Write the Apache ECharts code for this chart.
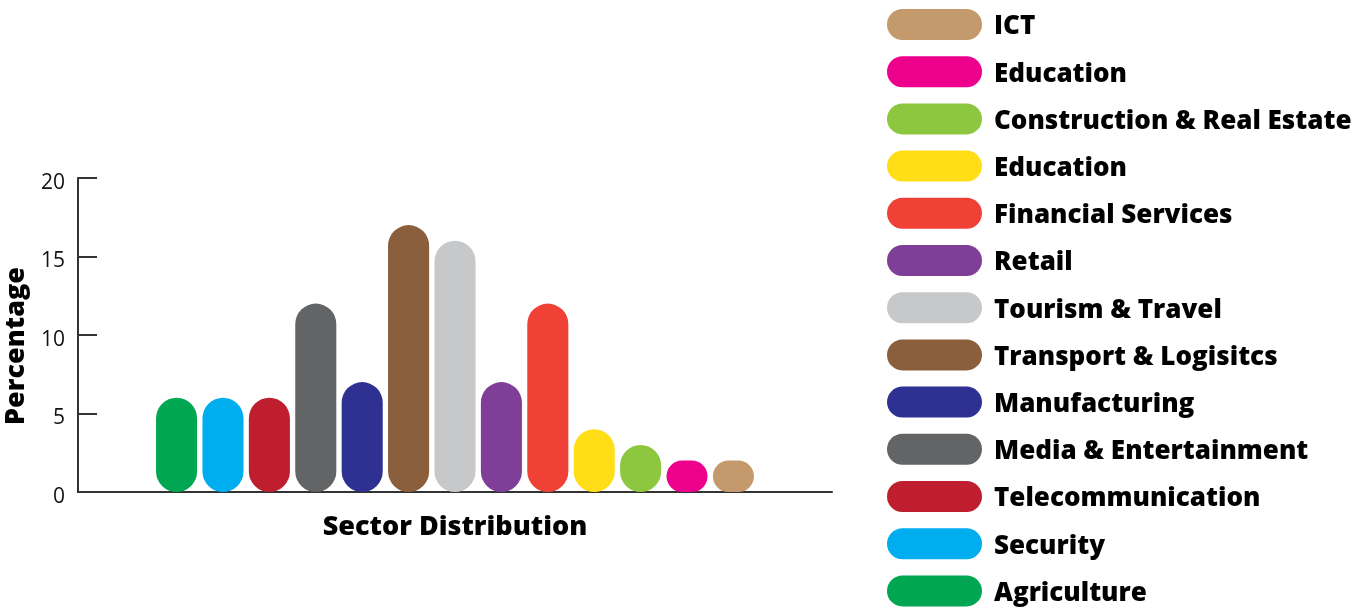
<!DOCTYPE html>
<html>
<head>
<meta charset="utf-8">
<script src="https://cdn.jsdelivr.net/npm/echarts@6/dist/echarts.min.js"></script>
<style>
html,body{margin:0;padding:0;background:#fff;}
#chart{width:1371px;height:611px;}
</style>
</head>
<body>
<div id="chart"></div>
<script>
const categories = ['Sector Distribution'];
const seriesNames = ['Agriculture','Security','Telecommunication','Media & Entertainment','Manufacturing','Transport & Logisitcs','Tourism & Travel','Retail','Financial Services','Education','Construction & Real Estate','Education ','ICT'];
const seriesValues = [6, 6, 6, 12, 7, 17, 16, 7, 12, 4, 3, 2, 2];
const seriesColors = ['#00A651','#00AEEF','#BE1E2D','#636466','#2E3192','#8B5E3C','#C7C8CA','#7F3F98','#EF4136','#FFDE17','#8DC63F','#EC008C','#C49A6C'];
const yTicks = {min: 0, max: 20, interval: 5};

const pill = 'path://M15.5,0 L79.5,0 A15.5,15.5 0 0 1 79.5,31 L15.5,31 A15.5,15.5 0 0 1 15.5,0 Z';

const chart = echarts.init(document.getElementById('chart'));
const series = seriesNames.map((n, i) => ({
  name: n,
  type: 'bar',
  data: [seriesValues[i]],
  barGap: '13%',
  barCategoryGap: '20.7%',
  itemStyle: {color: seriesColors[i], borderRadius: 21},
  emphasis: {disabled: true}
}));

chart.setOption({
  animation: false,
  grid: {left: 78, right: 539, top: 178, bottom: 119, containLabel: false, outerBoundsMode: 'none'},
  legend: {
    orient: 'vertical',
    left: 887,
    top: 9,
    height: 602,
    padding: 0,
    itemWidth: 95,
    itemHeight: 31,
    itemGap: 16.2,
    icon: pill,
    data: seriesNames.slice().reverse(),
    formatter: n => '{a|' + n.trim() + '}',
    textStyle: {
      fontFamily: 'Open Sans', fontWeight: 800, fontSize: 26, color: '#000',
      rich: {a: {fontFamily: 'Open Sans', fontWeight: 800, fontSize: 26, color: '#000', lineHeight: 26, padding: [5, 0, 0, 7]}}
    },
    selectedMode: false
  },
  xAxis: {
    type: 'category',
    data: categories,
    axisLine: {lineStyle: {color: '#333', width: 2}},
    axisTick: {inside: true, length: 7, lineStyle: {color: '#333', width: 2}},
    axisLabel: {margin: 22, fontFamily: 'Open Sans', fontWeight: 800, fontSize: 27, color: '#000'}
  },
  yAxis: {
    type: 'value',
    min: yTicks.min, max: yTicks.max, interval: yTicks.interval,
    name: 'Percentage',
    nameLocation: 'middle',
    nameGap: 46,
    nameTextStyle: {fontFamily: 'Open Sans', fontWeight: 800, fontSize: 27, color: '#000', padding: [0, 22, 0, 0]},
    axisLine: {show: true, lineStyle: {color: '#333', width: 2}},
    axisTick: {show: true, inside: true, length: 19, lineStyle: {color: '#333', width: 2}},
    axisLabel: {
      margin: 13,
      formatter: '{a|{value}}',
      rich: {a: {fontFamily: 'Open Sans', fontSize: 21, color: '#111', padding: [10, 0, 0, 0]}}
    },
    splitLine: {show: false}
  },
  series: series
});
</script>
</body>
</html>
